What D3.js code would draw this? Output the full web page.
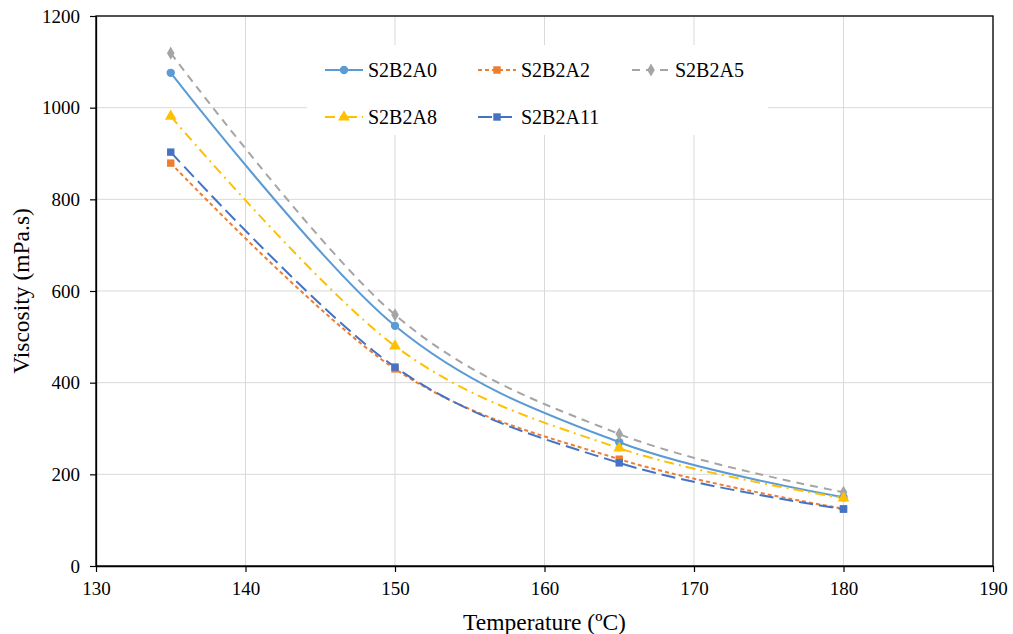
<!DOCTYPE html>
<html><head><meta charset="utf-8">
<script src="https://cdn.jsdelivr.net/npm/d3@7"></script>
<style>body{margin:0;background:#fff}svg{display:block}text{font-family:"Liberation Serif","Times New Roman",serif}</style>
</head><body>
<script>
const temperatures = [135, 150, 165, 180];
const seriesNames = ["S2B2A0", "S2B2A2", "S2B2A5", "S2B2A8", "S2B2A11"];
const vS2B2A0  = [1076, 524, 270, 150];
const vS2B2A2  = [879, 430, 233, 125];
const vS2B2A5  = [1119, 548, 288, 161];
const vS2B2A8  = [981, 480, 257, 148];
const vS2B2A11 = [903, 434, 225, 124];
const xTicks = [130, 140, 150, 160, 170, 180, 190];
const yTicks = [0, 200, 400, 600, 800, 1000, 1200];

const values = [vS2B2A0, vS2B2A2, vS2B2A5, vS2B2A8, vS2B2A11];
const colors = ["#5B9BD5", "#ED7D31", "#A5A5A5", "#FFC000", "#4472C4"];
const dashes = [null, "4,3", "8,6", "10,5,2,5", "14,6"];
const symbols = [d3.symbolCircle, d3.symbolSquare, d3.symbolDiamond, d3.symbolTriangle, d3.symbolSquare];
const symSizes = [55, 55, 50, 60, 55];

const W = 1013, H = 634;
const m = {left: 96, right: 20, top: 16, bottom: 68};
const svg = d3.select("body").append("svg").attr("width", W).attr("height", H);
const x = d3.scaleLinear().domain([130, 190]).range([m.left, W - m.right]);
const y = d3.scaleLinear().domain([0, 1200]).range([H - m.bottom, m.top]);
const font = "'Liberation Serif', 'Times New Roman', serif";

// grid
svg.append("g").selectAll("line").data(yTicks).join("line")
  .attr("x1", x(130)).attr("x2", x(190)).attr("y1", d => y(d)).attr("y2", d => y(d))
  .attr("stroke", "#d9d9d9").attr("stroke-width", 1);
svg.append("g").selectAll("line").data(xTicks).join("line")
  .attr("y1", y(0)).attr("y2", y(1200)).attr("x1", d => x(d)).attr("x2", d => x(d))
  .attr("stroke", "#d9d9d9").attr("stroke-width", 1);

// axes
const xAxis = svg.append("g").attr("transform", `translate(0,${y(0)})`)
  .call(d3.axisBottom(x).tickValues(xTicks).tickFormat(d3.format("d")).tickSize(6).tickPadding(10).tickSizeOuter(0));
const yAxis = svg.append("g").attr("transform", `translate(${x(130)},0)`)
  .call(d3.axisLeft(y).tickValues(yTicks).tickFormat(d3.format("d")).tickSize(6).tickPadding(10).tickSizeOuter(0));
[xAxis, yAxis].forEach(g => {
  g.attr("font-family", null).attr("font-size", null);
  g.select(".domain").attr("stroke", "#000").attr("stroke-width", 1.3);
  g.selectAll(".tick line").attr("stroke", "#000").attr("stroke-width", 1.2);
  g.selectAll(".tick text").style("font-family", font).style("font-size", "19px").attr("fill", "#000");
});
// border
svg.append("rect").attr("x", x(130)).attr("y", y(1200)).attr("width", x(190) - x(130)).attr("height", y(0) - y(1200))
  .attr("fill", "none").attr("stroke", "#000").attr("stroke-width", 1.3);

// lines
const line = d3.line().x((d, i) => x(temperatures[i])).y(d => y(d)).curve(d3.curveCardinal.tension(0));
values.forEach((vals, s) => {
  svg.append("path").datum(vals).attr("d", line).attr("fill", "none")
    .attr("stroke", colors[s]).attr("stroke-width", 2)
    .attr("stroke-dasharray", dashes[s]);
});
values.forEach((vals, s) => {
  svg.append("g").selectAll("path").data(vals).join("path")
    .attr("transform", (d, i) => `translate(${x(temperatures[i])},${y(d)})`)
    .attr("d", d3.symbol().type(symbols[s]).size(symSizes[s]))
    .attr("fill", colors[s]);
});

// legend
svg.append("rect").attr("x", 307).attr("y", 45).attr("width", 461).attr("height", 90).attr("fill", "#fff");
const legPos = [[325, 70], [478, 70], [632, 70], [325, 117], [478, 117]];
seriesNames.forEach((name, s) => {
  const [lx, ly] = legPos[s];
  const g = svg.append("g");
  g.append("line").attr("x1", lx).attr("x2", lx + 38).attr("y1", ly).attr("y2", ly)
    .attr("stroke", colors[s]).attr("stroke-width", 2).attr("stroke-dasharray", dashes[s]);
  g.append("path").attr("transform", `translate(${lx + 19},${ly})`)
    .attr("d", d3.symbol().type(symbols[s]).size(symSizes[s])).attr("fill", colors[s]);
  g.append("text").attr("x", lx + 43).attr("y", ly + 7).text(name)
    .style("font-family", font).style("font-size", "20px").attr("fill", "#000");
});

// axis titles
svg.append("text").attr("x", (x(130) + x(190)) / 2).attr("y", 630).attr("text-anchor", "middle")
  .style("font-family", font).style("font-size", "23.5px").text("Temperature (ºC)");
svg.append("text").attr("transform", `translate(29,${(y(0) + y(1200)) / 2}) rotate(-90)`).attr("text-anchor", "middle")
  .style("font-family", font).style("font-size", "23.5px").text("Viscosity (mPa.s)");
</script>
</body></html>
